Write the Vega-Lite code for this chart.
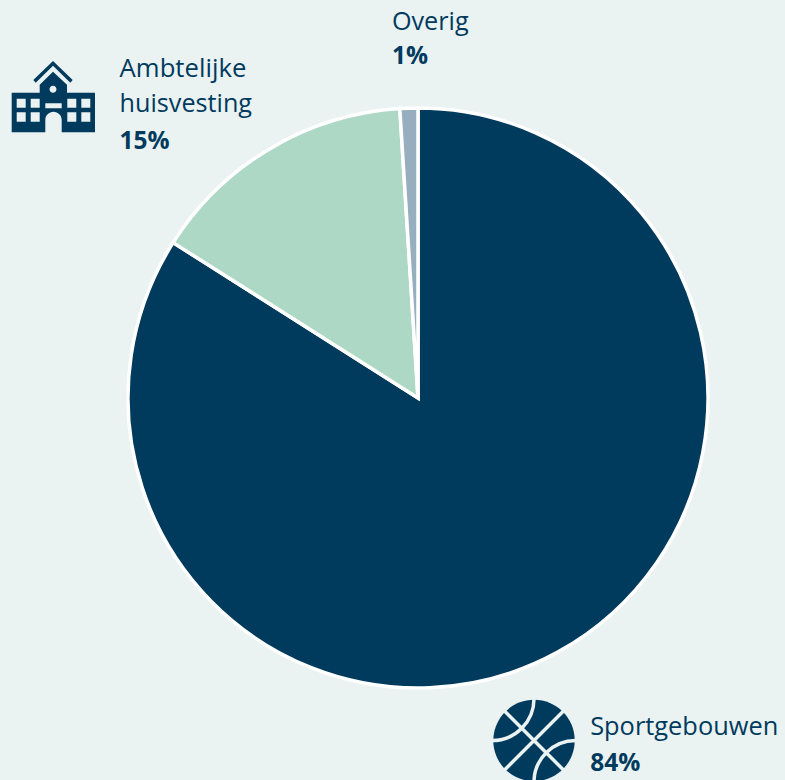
{"$schema":"https://vega.github.io/schema/vega-lite/v6.json","width":734,"height":764,"autosize":{"type":"none"},"padding":{"left":51,"top":16,"right":0,"bottom":0},"background":"#EAF2F2","view":{"stroke":null},"layer":[{"data":{"values":[{"name":"Sportgebouwen","line1":"Sportgebouwen","line2":"","share":84,"label":"84%","order":1},{"name":"Ambtelijke huisvesting","line1":"Ambtelijke","line2":"huisvesting","share":15,"label":"15%","order":2},{"name":"Overig","line1":"Overig","line2":"","share":1,"label":"1%","order":3}]},"encoding":{"theta":{"field":"share","type":"quantitative","stack":true},"order":{"field":"order","type":"ordinal"}},"layer":[{"mark":{"type":"arc","outerRadius":290,"stroke":"#FFFFFF","strokeWidth":3.5},"encoding":{"color":{"field":"name","type":"nominal","legend":null,"scale":{"domain":["Sportgebouwen","Ambtelijke huisvesting","Overig"],"range":["#003A5D","#AED8C6","#97AEBF"]}}}},{"mark":{"type":"text","radius":320,"align":"left","baseline":"alphabetic","font":"Open Sans","fontSize":25.4,"color":"#003A5D","dx":18,"dy":56.6},"encoding":{"text":{"condition":{"test":"datum.order===1","field":"line1"},"value":""}}},{"mark":{"type":"text","radius":320,"align":"left","baseline":"alphabetic","font":"Open Sans","fontSize":24.5,"fontWeight":"bold","color":"#003A5D","dx":18,"dy":92.3},"encoding":{"text":{"condition":{"test":"datum.order===1","field":"label"},"value":""}}},{"mark":{"type":"text","radius":320,"align":"left","baseline":"alphabetic","font":"Open Sans","fontSize":25.7,"color":"#003A5D","dx":-135.5,"dy":-46},"encoding":{"text":{"condition":{"test":"datum.order===2","field":"line1"},"value":""}}},{"mark":{"type":"text","radius":320,"align":"left","baseline":"alphabetic","font":"Open Sans","fontSize":25.2,"color":"#003A5D","dx":-135.5,"dy":-11},"encoding":{"text":{"condition":{"test":"datum.order===2","field":"line2"},"value":""}}},{"mark":{"type":"text","radius":320,"align":"left","baseline":"alphabetic","font":"Open Sans","fontSize":24.5,"fontWeight":"bold","color":"#003A5D","dx":-135.5,"dy":26},"encoding":{"text":{"condition":{"test":"datum.order===2","field":"label"},"value":""}}},{"mark":{"type":"text","radius":320,"align":"left","baseline":"alphabetic","font":"Open Sans","fontSize":25.2,"color":"#003A5D","dx":-16,"dy":-48},"encoding":{"text":{"condition":{"test":"datum.order===3","field":"line1"},"value":""}}},{"mark":{"type":"text","radius":320,"align":"left","baseline":"alphabetic","font":"Open Sans","fontSize":24.5,"fontWeight":"bold","color":"#003A5D","dx":-16,"dy":-14},"encoding":{"text":{"condition":{"test":"datum.order===3","field":"label"},"value":""}}}]},{"data":{"values":[{"icon":"gebouw"}]},"mark":{"type":"point","filled":true,"size":4,"opacity":1,"color":"#003A5D","strokeWidth":0,"shape":"M-365 -337L-345.3 -318L-347.7 -315.3L-365 -332.3L-382.3 -315.3L-384.7 -318ZM-406.3 -305.3L-378.3 -305.3L-378.3 -313.3L-365 -326.3L-351 -313.3L-351 -305.3L-323 -305.3L-323 -265.7L-356.3 -265.7L-356.3 -278A8.2 8.2 0 0 0 -372.7 -278L-372.7 -265.7L-406.3 -265.7ZM-401.3 -299.3L-401.3 -290.3L-392.3 -290.3L-392.3 -299.3ZM-387.3 -299.3L-387.3 -290.3L-378.3 -290.3L-378.3 -299.3ZM-350.7 -299.3L-350.7 -290.3L-341.7 -290.3L-341.7 -299.3ZM-336.7 -299.3L-336.7 -290.3L-327.7 -290.3L-327.7 -299.3ZM-401.3 -285.7L-401.3 -276.3L-392.3 -276.3L-392.3 -285.7ZM-387.3 -285.7L-387.3 -276.3L-378.3 -276.3L-378.3 -285.7ZM-350.7 -285.7L-350.7 -276.3L-341.7 -276.3L-341.7 -285.7ZM-336.7 -285.7L-336.7 -276.3L-327.7 -276.3L-327.7 -285.7ZM-372.7 -294.7L-372.7 -289.7L-356.3 -289.7L-356.3 -294.7ZM-361.5 -308.7A3.5 3.5 0 1 0 -368.5 -308.7A3.5 3.5 0 1 0 -361.5 -308.7Z"},"encoding":{}},{"data":{"values":[{"icon":"bal"}]},"mark":{"type":"point","filled":true,"size":4,"opacity":1,"color":"#003A5D","strokeWidth":0,"shape":"M156.7 342.5A40.7 40.7 0 1 1 75.3 342.5A40.7 40.7 0 1 1 156.7 342.5Z"},"encoding":{}},{"data":{"values":[{"icon":"naden"}]},"mark":{"type":"point","filled":false,"size":4,"opacity":1,"stroke":"#EAF2F2","strokeWidth":3.5,"shape":"M146 312.5L86 372.5M86 312.5L146 372.5M116 300.8A41.7 41.7 0 0 1 74.3 342.5M157.7 342.5A41.7 41.7 0 0 0 116 384.2"},"encoding":{}}]}
